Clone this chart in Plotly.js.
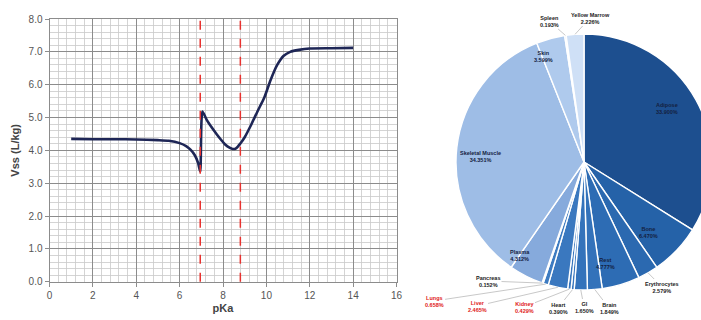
<!DOCTYPE html>
<html><head><meta charset="utf-8">
<script src="https://cdn.plot.ly/plotly-3.0.1.min.js"></script>
<style>html,body{margin:0;padding:0;overflow:hidden;background:#fff;width:701px;height:320px}#c{width:720px;height:320px}</style>
</head><body><div id="c"></div>
<script>
// ---- line chart data ----
const pKa = [1,2,3,4,5,5.5,6,6.3,6.5,6.7,6.85,6.95,7.05,7.25,7.5,7.7,7.9,8.1,8.3,8.45,8.6,8.8,9.0,9.3,9.6,9.9,10.2,10.5,10.8,11.1,11.5,12,13,14];
const vss = [4.35,4.34,4.34,4.33,4.31,4.29,4.22,4.13,4.02,3.85,3.62,3.35,5.18,4.93,4.68,4.5,4.33,4.18,4.08,4.04,4.06,4.21,4.40,4.78,5.2,5.6,6.15,6.6,6.88,7.0,7.06,7.1,7.11,7.12];
const markerLines = [6.95, 8.8];
const xTicks = [0,2,4,6,8,10,12,14,16];
const yTicks = [0,1,2,3,4,5,6,7,8];
const yTickLabels = ["0.0","1.0","2.0","3.0","4.0","5.0","6.0","7.0","8.0"];

// ---- pie data ----
const tissues = ["Adipose","Bone","Erythrocytes","Rest","Brain","GI","Heart","Kidney","Liver","Lungs","Pancreas","Plasma","Skeletal Muscle","Skin","Spleen","Yellow Marrow"];
const shares = [33.900,6.470,2.579,4.777,1.849,1.650,0.390,0.429,2.465,0.658,0.152,4.312,34.351,3.599,0.193,2.226];
const insideLabel = [true,true,false,true,false,false,false,false,false,false,false,true,true,true,false,false];
const redLabel = ["Kidney","Liver","Lungs"];
const sliceColors = ["#1d4f8f","#2562a8","#2b69b0","#2d6cb4","#3372ba","#3473bb","#3775bd","#3775bd","#3a78bf","#3d7bc1","#4a84c6","#86aadc","#9ebde6","#afcaed","#c8daf3","#cfe0f6"];

const W = 720, H = 320;
const px = v => v / W, py = v => (H - v) / H;
const plotL = 49.5, plotR = 396.5, plotT = 19, plotB = 281.7;
const pieCx = 584, pieCy = 162, pieR = 128;

// label positions (layout, pixels)
const labelPos = {
  "Adipose":[680,108], "Bone":[660,241], "Rest":[617,272], "Plasma":[532,264],
  "Skeletal Muscle":[480,156], "Skin":[555,48],
  "Erythrocytes":[662,287], "Brain":[609,308], "GI":[584,307], "Heart":[558,308],
  "Kidney":[524,307], "Liver":[477,306], "Lungs":[434,301], "Pancreas":[488,281],
  "Spleen":[549,21], "Yellow Marrow":[590,18]
};

const fmt = v => v.toFixed(3) + "%";
const font = "Liberation Sans, Arial, sans-serif";

const total = shares.reduce((a,b)=>a+b,0);
const annotations = [];
let cum = 0;
tissues.forEach((t,i) => {
  const mid = (cum + shares[i]/2) / total * 2 * Math.PI;
  cum += shares[i];
  const [lx, ly] = labelPos[t];
  const txt = "<b>"+t+"<br>"+fmt(shares[i])+"</b>";
  if (insideLabel[i]) {
    annotations.push({xref:"paper", yref:"paper", x:px(lx), y:py(ly), showarrow:false,
      text:txt, font:{family:font, size:5.5, color:"#14213f"}, align:"center"});
    return;
  }
  const rx = pieCx + pieR * Math.sin(mid), ry = pieCy - pieR * Math.cos(mid);
  annotations.push({
    xref:"paper", yref:"paper", x:px(rx), y:py(ry), ax:lx-rx, ay:ly-ry,
    text:txt, showarrow:true, arrowhead:0, arrowwidth:0.7,
    arrowcolor:"#b0b0b0", standoff:0, startstandoff:0,
    font:{family:font, size:5.5, color: redLabel.includes(t) ? "#e02020" : "#222"},
    align:"center"
  });
});

const shapes = markerLines.map(x => ({
  type:"line", xref:"x", yref:"paper", x0:x, x1:x, y0:py(plotB), y1:py(plotT),
  line:{color:"#e8322f", width:1.5, dash:"dash"}
}));

const traces = [
  {type:"scatter", mode:"lines", x:pKa, y:vss, line:{color:"#1e2656", width:2.6, shape:"spline", smoothing:0.6},
   hoverinfo:"skip", showlegend:false},
  {type:"pie", labels:tissues, values:shares, sort:false, direction:"clockwise", rotation:0,
   domain:{x:[px(pieCx-pieR), px(pieCx+pieR)], y:[py(pieCy+pieR), py(pieCy-pieR)]},
   marker:{colors:sliceColors, line:{color:"#ffffff", width:1.4}},
   textinfo:"none", hoverinfo:"skip", showlegend:false}
];

const axisFont = {family:font, size:10, color:"#555"};
const layout = {
  width:W, height:H, margin:{l:0,r:0,t:0,b:0}, paper_bgcolor:"#fff", plot_bgcolor:"#fff",
  showlegend:false,
  xaxis:{domain:[px(plotL), px(plotR)], range:[0,16], tickvals:xTicks, ticktext:xTicks.map(String),
    showgrid:true, gridcolor:"#8c8c8c", gridwidth:1, zeroline:false,
    minor:{dtick:0.4, showgrid:true, gridcolor:"#c9c9c9", gridwidth:0.8},
    showline:true, linecolor:"#8c8c8c", mirror:true, ticks:"outside", ticklen:4, tickcolor:"#8c8c8c",
    tickfont:axisFont, fixedrange:true,
    title:{text:"<b>pKa</b>", font:{family:font, size:11, color:"#444"}, standoff:4}},
  yaxis:{domain:[py(plotB), py(plotT)], range:[0,8], tickvals:yTicks, ticktext:yTickLabels,
    showgrid:true, gridcolor:"#8c8c8c", gridwidth:1, zeroline:false,
    minor:{dtick:0.2, showgrid:true, gridcolor:"#c9c9c9", gridwidth:0.8},
    showline:true, linecolor:"#8c8c8c", mirror:true, ticks:"outside", ticklen:4, tickcolor:"#8c8c8c",
    tickfont:axisFont, fixedrange:true,
    title:{text:"<b>Vss (L/kg)</b>", font:{family:font, size:11, color:"#444"}, standoff:6}},
  shapes:shapes, annotations:annotations
};
Plotly.newPlot("c", traces, layout, {displayModeBar:false, staticPlot:true});
</script></body></html>
